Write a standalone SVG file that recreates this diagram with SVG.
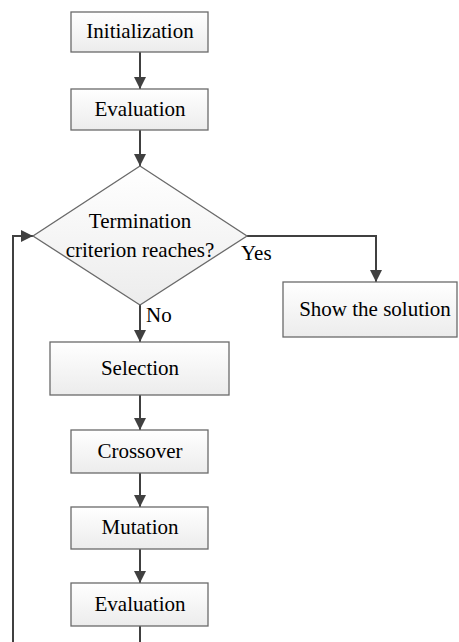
<svg xmlns="http://www.w3.org/2000/svg" width="459" height="642" viewBox="0 0 459 642">
<defs>
<linearGradient id="g" x1="0" y1="0" x2="0" y2="1">
<stop offset="0" stop-color="#ffffff"/>
<stop offset="1" stop-color="#ececec"/>
</linearGradient>
<marker id="ah" viewBox="0 0 12 12" refX="12" refY="6" markerWidth="12" markerHeight="12" markerUnits="userSpaceOnUse" orient="auto">
<path d="M0,0 L12,6 L0,12 Z" fill="#404040"/>
</marker>
<style>
.box{fill:url(#g);stroke:#6a6a6a;stroke-width:1.3}
.t{font-family:"Liberation Serif","Times New Roman",serif;font-size:21px;fill:#000;text-anchor:middle}
.l{font-family:"Liberation Serif","Times New Roman",serif;font-size:21px;fill:#000}
.c{fill:none;stroke:#404040;stroke-width:2}
</style>
</defs>
<rect width="459" height="642" fill="#fff"/>
<g id="connectors">
<path class="c" d="M140,52 V89" marker-end="url(#ah)"/>
<path class="c" d="M140,130 V166" marker-end="url(#ah)"/>
<path class="c" d="M247,236 H376 V282" marker-end="url(#ah)"/>
<path class="c" d="M140,305 V342" marker-end="url(#ah)"/>
<path class="c" d="M140,395 V430" marker-end="url(#ah)"/>
<path class="c" d="M140,473 V507" marker-end="url(#ah)"/>
<path class="c" d="M140,549 V583" marker-end="url(#ah)"/>
<path class="c" d="M140,626 V642"/>
<path class="c" d="M13,642 V236 H33" marker-end="url(#ah)"/>
<text class="l" x="241" y="260">Yes</text>
<text class="l" x="146" y="322">No</text>
</g>
<g id="init"><rect class="box" x="71" y="12" width="137" height="40"/><text class="t" x="140" y="38">Initialization</text></g>
<g id="eval1"><rect class="box" x="71" y="89" width="137" height="41"/><text class="t" x="140" y="116">Evaluation</text></g>
<g id="decision"><polygon class="box" points="140,166 247,236 140,305 33,236"/><text class="t" x="140" y="228">Termination</text><text class="t" x="140" y="257">criterion reaches?</text></g>
<g id="solution"><rect class="box" x="283" y="282" width="174" height="55"/><text class="t" x="375" y="316">Show the solution</text></g>
<g id="selection"><rect class="box" x="50" y="342" width="179" height="53"/><text class="t" x="140" y="375">Selection</text></g>
<g id="crossover"><rect class="box" x="71" y="430" width="137" height="43"/><text class="t" x="140" y="458">Crossover</text></g>
<g id="mutation"><rect class="box" x="71" y="507" width="137" height="42"/><text class="t" x="140" y="534">Mutation</text></g>
<g id="eval2"><rect class="box" x="71" y="583" width="137" height="43"/><text class="t" x="140" y="611">Evaluation</text></g>
</svg>
